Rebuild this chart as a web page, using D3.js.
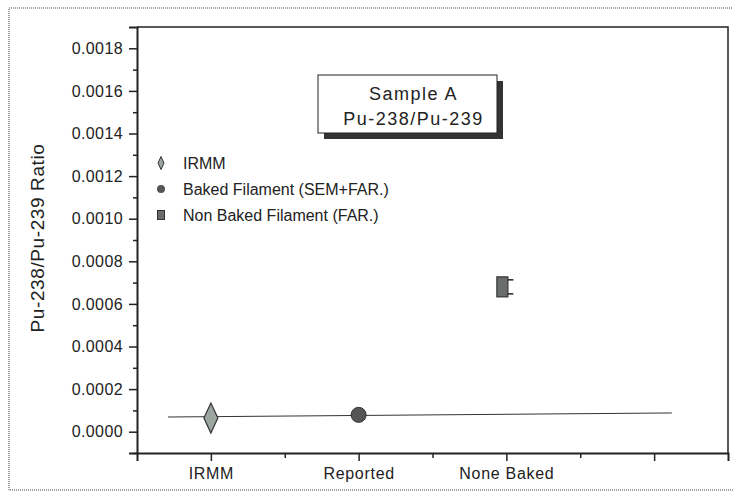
<!DOCTYPE html>
<html>
<head>
<meta charset="utf-8">
<script src="https://cdn.jsdelivr.net/npm/d3@7"></script>
<style>
  body { margin: 0; background: #fff; }
  text { font-family: "Liberation Sans", Arial, sans-serif; fill: #222; }
</style>
</head>
<body>
<div id="chart"></div>
<script>
// categories on the x axis (4th tick has no label)
const categories = ["IRMM", "Reported", "None Baked", ""];
const categoryPos = [1, 2, 3, 4];
const minorXTicks = [1.5, 2.5, 3.5];

// series
const seriesNames = ["IRMM", "Baked Filament (SEM+FAR.)", "Non Baked Filament (FAR.)"];
const seriesX = [1, 2, 3];
const seriesY = [0.000064, 0.000079, 0.00068];
const seriesErr = [0, 0, 0.000033];

// horizontal reference line
const refX = [0.71, 4.12];
const refY = [0.000069, 0.000088];

// y ticks
const yTicks = [0, 0.0002, 0.0004, 0.0006, 0.0008, 0.0010, 0.0012, 0.0014, 0.0016, 0.0018];
const yMinorTicks = [-0.0001, 0.0001, 0.0003, 0.0005, 0.0007, 0.0009, 0.0011, 0.0013, 0.0015, 0.0017];

const titleLines = ["Sample A", "Pu-238/Pu-239"];
const yLabel = "Pu-238/Pu-239 Ratio";

const W = 733, H = 492;
const plot = { left: 137, right: 728, top: 27, bottom: 453 };

let svg = d3.select("#chart").append("svg").attr("width", W).attr("height", H);

// outer dotted frame
svg.append("rect")
  .attr("x", 9).attr("y", 8).attr("width", 740).attr("height", 482)
  .attr("fill", "none").attr("stroke", "#444").attr("stroke-width", 1)
  .attr("stroke-dasharray", "1,1");

let x = d3.scaleLinear().domain([0.5, 4.5]).range([plot.left, plot.right]);
let y = d3.scaleLinear().domain([-0.0001, 0.0019]).range([plot.bottom, plot.top]);

// plot frame (top + right)
svg.append("path")
  .attr("d", `M${plot.left},${plot.top}H${plot.right}V${plot.bottom}`)
  .attr("fill", "none").attr("stroke", "#222").attr("stroke-width", 1.5);

// y axis
let yAxis = svg.append("g")
  .attr("transform", `translate(${plot.left},0)`)
  .call(d3.axisLeft(y).tickValues(yTicks).tickFormat(d3.format(".4f")).tickSize(8).tickPadding(6));
yAxis.select(".domain").attr("stroke-width", 2).attr("stroke", "#222");
yAxis.selectAll(".tick line").attr("stroke-width", 1.5).attr("stroke", "#222");
yAxis.selectAll("text").style("font-size", "16px").style("letter-spacing", "0.4px").attr("fill", "#222");
svg.append("g")
  .attr("transform", `translate(${plot.left},0)`)
  .call(d3.axisLeft(y).tickValues(yMinorTicks).tickFormat("").tickSize(4))
  .call(g => g.select(".domain").remove())
  .selectAll("line").attr("stroke-width", 1.5).attr("stroke", "#222");

// x axis
let xAxis = svg.append("g")
  .attr("transform", `translate(0,${plot.bottom})`)
  .call(d3.axisBottom(x).tickValues(categoryPos).tickFormat((d, i) => categories[i]).tickSize(8).tickPadding(7));
xAxis.select(".domain").attr("stroke-width", 2).attr("stroke", "#222");
xAxis.selectAll(".tick line").attr("stroke-width", 1.5).attr("stroke", "#222");
xAxis.selectAll("text").style("font-size", "16px").style("letter-spacing", "0.7px").attr("fill", "#222");
svg.append("g")
  .attr("transform", `translate(0,${plot.bottom})`)
  .call(d3.axisBottom(x).tickValues(minorXTicks).tickFormat("").tickSize(5))
  .call(g => g.select(".domain").remove())
  .selectAll("line").attr("stroke-width", 1.5).attr("stroke", "#222");

// y label
svg.append("text")
  .attr("transform", "translate(44,238) rotate(-90)")
  .attr("text-anchor", "middle")
  .style("font-size", "19px")
  .style("letter-spacing", "0.6px")
  .text(yLabel);

// reference line
svg.append("line")
  .attr("x1", x(refX[0])).attr("x2", x(refX[1]))
  .attr("y1", y(refY[0])).attr("y2", y(refY[1]))
  .attr("stroke", "#333").attr("stroke-width", 1);

// symbols
function diamondPath(w, h) {
  return `M0,${-h / 2}L${w / 2},0L0,${h / 2}L${-w / 2},0Z`;
}
function drawSymbol(g, i) {
  if (i === 0) {
    g.append("path").attr("d", diamondPath(14, 30))
      .attr("fill", "#9aa69f").attr("stroke", "#333").attr("stroke-width", 1.2);
  } else if (i === 1) {
    g.append("circle").attr("r", 7.5)
      .attr("fill", "#555").attr("stroke", "#333").attr("stroke-width", 1);
  } else {
    g.append("rect")
      .attr("x", -5.5).attr("y", -10).attr("width", 11).attr("height", 20)
      .attr("fill", "#6a6d6b").attr("stroke", "#333").attr("stroke-width", 1.2);
  }
}

// error bars (caps visible on the right of the square)
seriesX.forEach((d, i) => {
  if (!seriesErr[i]) return;
  let cx = x(d) - 4;
  let g = svg.append("g").attr("stroke", "#222").attr("stroke-width", 1.5);
  g.append("line").attr("x1", cx).attr("x2", cx)
    .attr("y1", y(seriesY[i] - seriesErr[i])).attr("y2", y(seriesY[i] + seriesErr[i]));
  [seriesY[i] - seriesErr[i], seriesY[i] + seriesErr[i]].forEach(v => {
    g.append("line").attr("x1", cx).attr("x2", cx + 11).attr("y1", y(v)).attr("y2", y(v));
  });
});

seriesX.forEach((d, i) => {
  let cx = i === 2 ? x(d) - 4 : x(d);
  let g = svg.append("g").attr("transform", `translate(${cx},${y(seriesY[i])})`);
  drawSymbol(g, i);
});

// legend
const legendRows = [163, 189, 215];
seriesNames.forEach((name, i) => {
  let g = svg.append("g").attr("transform", `translate(161,${legendRows[i]})`);
  if (i === 0) {
    g.append("path").attr("d", diamondPath(6, 13))
      .attr("fill", "#9aa69f").attr("stroke", "#333").attr("stroke-width", 1);
  } else if (i === 1) {
    g.append("circle").attr("r", 4).attr("fill", "#555");
  } else {
    g.append("rect").attr("x", -3.5).attr("y", -4.5).attr("width", 7).attr("height", 9)
      .attr("fill", "#6a6d6b").attr("stroke", "#333");
  }
  svg.append("text")
    .attr("x", 183).attr("y", legendRows[i]).attr("dy", "0.36em")
    .style("font-size", "16px")
    .text(name);
});

// title box with shadow
let tb = { x: 318, y: 75, w: 179, h: 58 };
svg.append("rect").attr("x", tb.x + 6).attr("y", tb.y + 6).attr("width", tb.w).attr("height", tb.h)
  .attr("fill", "#333");
svg.append("rect").attr("x", tb.x).attr("y", tb.y).attr("width", tb.w).attr("height", tb.h)
  .attr("fill", "#fff").attr("stroke", "#222").attr("stroke-width", 1);
titleLines.forEach((t, i) => {
  svg.append("text")
    .attr("x", tb.x + tb.w / 2 + 6).attr("y", 100 + i * 25)
    .attr("text-anchor", "middle")
    .style("font-size", "18px")
    .style("letter-spacing", "1.5px")
    .text(t);
});
</script>
</body>
</html>
